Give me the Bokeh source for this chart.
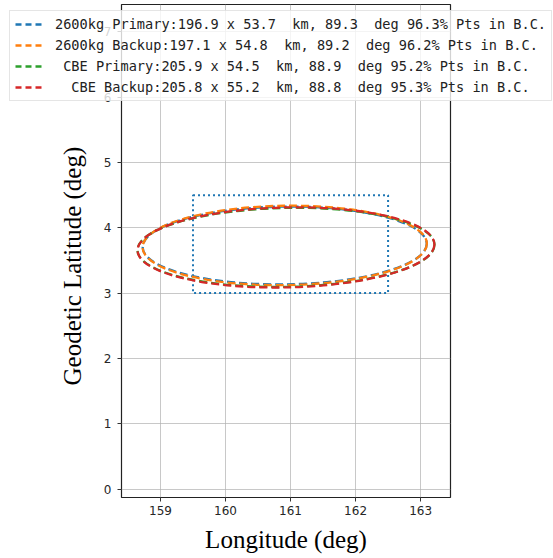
import math

from bokeh.plotting import figure
from bokeh.models import Range1d, Legend, LegendItem, Title, FixedTicker, GridBox
from bokeh.embed import file_html
from bokeh.resources import INLINE

# Dispersion ellipse summary for each trajectory case
label_names = ["2600kg Primary", "2600kg Backup", " CBE Primary", "  CBE Backup"]
major_km = [196.9, 197.1, 205.9, 205.8]
minor_km = [53.7, 54.8, 54.5, 55.2]
azimuth_deg = [89.3, 89.2, 88.9, 88.8]
pct_in_bc = [96.3, 96.2, 95.2, 95.3]
center_lon = [160.91, 160.91, 160.93, 160.93]
center_lat = [3.73, 3.73, 3.70, 3.70]
colors = ["#1f77b4", "#ff7f0e", "#2ca02c", "#d62728"]

# Landing box (B.C.) limits
box_lon = [159.5, 162.5]
box_lat = [3.0, 4.5]

x_ticks = [159, 160, 161, 162, 163]
y_ticks = [0, 1, 2, 3, 4, 5, 6, 7]

KM_PER_DEG = 111.32
ELLIPSE_SCALE = 2.47

NB = "\u00a0"


def keep_spaces(s):
    # keep leading / repeated blanks visible in the SVG text
    out = []
    prev_space = True
    for ch in s:
        if ch == " " and prev_space:
            out.append(NB)
        else:
            out.append(ch)
        prev_space = ch == " "
    return "".join(out)


p = figure(
    width=553, height=558,
    x_range=Range1d(158.4, 163.46), y_range=Range1d(-0.13, 7.42),
    output_backend="svg", toolbar_location=None,
    min_border_left=121, min_border_right=103,
    min_border_top=4, min_border_bottom=61,
)
p.frame_align = False
p.background_fill_color = "white"
p.border_fill_color = "white"
p.outline_line_color = "#222222"
p.outline_line_width = 1.2

for ax in (p.xaxis, p.yaxis):
    ax.axis_line_color = None
    ax.major_tick_in = 0
    ax.major_tick_out = 4
    ax.major_tick_line_color = "#333333"
    ax.minor_tick_line_color = None
    ax.major_label_text_font = "DejaVu Sans"
    ax.major_label_text_font_size = "12px"
    ax.major_label_text_color = "#262626"
p.xaxis.ticker = FixedTicker(ticks=x_ticks)
p.yaxis.ticker = FixedTicker(ticks=y_ticks)
p.xaxis.major_label_standoff = 4
p.yaxis.major_label_standoff = 6

p.xaxis.axis_label = "Longitude (deg)"
p.xaxis.axis_label_text_font = "Liberation Serif"
p.xaxis.axis_label_text_font_size = "25px"
p.xaxis.axis_label_text_font_style = "normal"
p.xaxis.axis_label_text_color = "black"
p.xaxis.axis_label_standoff = 8

p.add_layout(Title(
    text="Geodetic Latitude (deg)", align="left", offset=112, standoff=29,
    text_font="Liberation Serif", text_font_size="25px",
    text_font_style="normal", text_color="black",
), "left")

p.grid.grid_line_color = "#b0b0b0"
p.grid.grid_line_alpha = 0.7
p.grid.grid_line_width = 1

# landing box
p.quad(left=box_lon[0], right=box_lon[1], bottom=box_lat[0], top=box_lat[1],
       fill_color=None, line_color="#1f77b4", line_width=2, line_dash="2 3")

for i in range(len(label_names)):
    w = major_km[i] * ELLIPSE_SCALE / KM_PER_DEG
    h = minor_km[i] * ELLIPSE_SCALE / KM_PER_DEG
    ang = math.radians(90.0 - azimuth_deg[i])
    p.ellipse(x=center_lon[i], y=center_lat[i], width=w, height=h, angle=ang,
              fill_color=None, line_color=colors[i], line_width=2.3,
              line_dash="8 4")

# Legend box drawn on its own transparent canvas so it can overhang the axes
leg_fig = figure(
    width=544, height=96, output_backend="svg", toolbar_location=None,
    x_axis_location=None, y_axis_location=None, min_border=0,
    x_range=Range1d(0, 1), y_range=Range1d(0, 1),
)
leg_fig.frame_align = False
leg_fig.grid.visible = False
leg_fig.outline_line_color = None
leg_fig.background_fill_color = None
leg_fig.border_fill_color = None

nan = float("nan")
items = []
for i in range(len(label_names)):
    # line proxy that only supplies the legend swatch
    r = leg_fig.line(x=[nan], y=[nan], line_color=colors[i], line_width=2.3, line_dash="6 4")
    text = (f"{label_names[i]}:{major_km[i]:.1f} x {minor_km[i]:.1f}  km, "
            f"{azimuth_deg[i]:.1f}  deg {pct_in_bc[i]:.1f}% Pts in B.C.")
    items.append(LegendItem(label=keep_spaces(text), renderers=[r]))

legend = Legend(
    items=items, location="top_left",
    label_text_font="DejaVu Sans Mono", label_text_font_size="13.6px",
    label_text_color="#222222",
    glyph_width=28, glyph_height=16, label_height=16, spacing=5,
    padding=5, margin=0, label_standoff=12,
    border_line_color="#cccccc", border_line_width=1,
    background_fill_color="white", background_fill_alpha=0.8,
)
leg_fig.add_layout(legend, "center")

leg_fig.margin = (10, 0, 0, 9)
leg_fig.styles = {"z-index": "10"}

# both canvases share one grid cell, the legend canvas on top
layout = GridBox(children=[(p, 0, 0), (leg_fig, 0, 0)])
open("out.html", "w").write(file_html(layout, INLINE))
